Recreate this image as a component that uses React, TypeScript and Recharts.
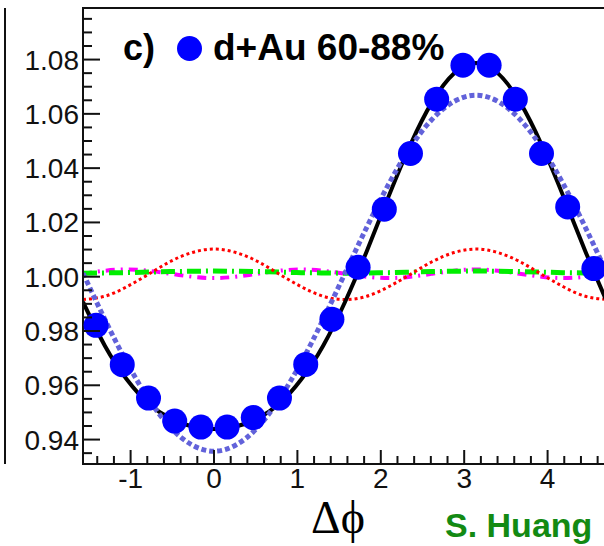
import React from "react";
import { ComposedChart, Line, Scatter, XAxis, YAxis, ReferenceArea } from "recharts";

// sample positions for the fit curves (-pi/2 .. 3pi/2)
const CURVE_X = [
  -1.571, -1.309, -1.047, -0.785, -0.524, -0.262, 0, 0.262, 0.524, 0.785, 1.047, 1.309, 1.571,
  1.833, 2.094, 2.356, 2.618, 2.88, 3.142, 3.403, 3.665, 3.927, 4.189, 4.451, 4.712,
];
// total fit (black solid)
const FIT = [
  0.9907, 0.9746, 0.9622, 0.9533, 0.9478, 0.9448, 0.9439, 0.9448, 0.9478, 0.9533, 0.9622, 0.9746, 0.9907,
  1.0095, 1.0296, 1.0487, 1.0645, 1.075, 1.0787, 1.075, 1.0645, 1.0487, 1.0296, 1.0095, 0.9907,
];
// first harmonic (blue dotted)
const HARM1 = [
  1.0013, 0.9843, 0.9685, 0.955, 0.9445, 0.938, 0.9357, 0.938, 0.9445, 0.955, 0.9685, 0.9843, 1.0013,
  1.0183, 1.0341, 1.0477, 1.0581, 1.0646, 1.0669, 1.0646, 1.0581, 1.0477, 1.0341, 1.0183, 1.0013,
];
// second harmonic (red dotted)
const HARM2 = [
  0.9916, 0.9928, 0.9963, 1.0009, 1.0056, 1.0089, 1.0102, 1.0089, 1.0056, 1.0009, 0.9963, 0.9928, 0.9916,
  0.9928, 0.9963, 1.0009, 1.0056, 1.0089, 1.0102, 1.0089, 1.0056, 1.0009, 0.9963, 0.9928, 0.9916,
];
// third harmonic (magenta dash-dot)
const HARM3 = [
  1.0011, 1.0022, 1.0027, 1.0022, 1.0011, 1.0, 0.9995, 1.0, 1.0011, 1.0022, 1.0027, 1.0022, 1.0011,
  1.0, 0.9995, 1.0, 1.0011, 1.0022, 1.0027, 1.0022, 1.0011, 1.0, 0.9995, 1.0, 1.0011,
];
// fourth term (green dash-dot)
const HARM4 = [
  1.0013, 1.0014, 1.0015, 1.0017, 1.0019, 1.002, 1.0021, 1.002, 1.0019, 1.0017, 1.0015, 1.0014, 1.0013,
  1.0014, 1.0015, 1.0017, 1.0019, 1.002, 1.0021, 1.002, 1.0019, 1.0017, 1.0015, 1.0014, 1.0013,
];

// d+Au 60-88% data points
const POINT_X = [
  -1.414, -1.1, -0.785, -0.471, -0.157, 0.157, 0.471, 0.785, 1.1, 1.414,
  1.728, 2.042, 2.356, 2.67, 2.985, 3.299, 3.613, 3.927, 4.241, 4.555,
];
const POINT_Y = [
  0.9821, 0.9676, 0.9553, 0.9468, 0.9446, 0.9446, 0.9481, 0.9553, 0.9677, 0.9843,
  1.0035, 1.0249, 1.0454, 1.0654, 1.0779, 1.0779, 1.0654, 1.0454, 1.0257, 1.003,
];

const X_TICKS = [-1, 0, 1, 2, 3, 4];
const X_MINOR = [
  -1.4, -1.2, -1, -0.8, -0.6, -0.4, -0.2, 0, 0.2, 0.4, 0.6, 0.8, 1, 1.2, 1.4, 1.6, 1.8, 2, 2.2, 2.4,
  2.6, 2.8, 3, 3.2, 3.4, 3.6, 3.8, 4, 4.2, 4.4, 4.6,
];
const Y_TICKS = [0.94, 0.96, 0.98, 1.0, 1.02, 1.04, 1.06, 1.08];
const Y_MINOR = [
  0.935, 0.94, 0.945, 0.95, 0.955, 0.96, 0.965, 0.97, 0.975, 0.98, 0.985, 0.99, 0.995, 1.0, 1.005,
  1.01, 1.015, 1.02, 1.025, 1.03, 1.035, 1.04, 1.045, 1.05, 1.055, 1.06, 1.065, 1.07, 1.075, 1.08,
  1.085, 1.09, 1.095,
];

const X_DOMAIN: [number, number] = [-1.5708, 4.7124];
const Y_DOMAIN: [number, number] = [0.931, 1.099];

const FONT = "'Liberation Sans', Arial, Helvetica, sans-serif";
const INK = "#111";

// ROOT draws its ticks inside the frame
const BottomTick = (p: any) => {
  const v = p.payload.value;
  const major = X_TICKS.includes(v);
  return (
    <g>
      <line x1={p.x} x2={p.x} y1={p.y} y2={p.y - (major ? 14 : 8)} stroke={INK} strokeWidth={2} />
      {major && (
        <text x={p.x} y={p.y + 24} textAnchor="middle" fontSize={28} fontFamily={FONT} fill={INK}>
          {v}
        </text>
      )}
    </g>
  );
};
const TopTick = (p: any) => {
  const major = X_TICKS.includes(p.payload.value);
  return <line x1={p.x} x2={p.x} y1={p.y} y2={p.y + (major ? 13 : 7)} stroke={INK} strokeWidth={2} />;
};
const LeftTick = (p: any) => {
  const v = p.payload.value;
  const major = Y_TICKS.includes(v);
  return (
    <g>
      <line x1={p.x} x2={p.x + (major ? 17 : 9)} y1={p.y} y2={p.y} stroke={INK} strokeWidth={2} />
      {major && (
        <text x={p.x - 4} y={p.y + 10} textAnchor="end" fontSize={28} fontFamily={FONT} fill={INK}>
          {v.toFixed(2)}
        </text>
      )}
    </g>
  );
};
const RightTick = (p: any) => {
  const major = Y_TICKS.includes(p.payload.value);
  return <line x1={p.x} x2={p.x - (major ? 17 : 9)} y1={p.y} y2={p.y} stroke={INK} strokeWidth={2} />;
};

export default function App() {
  const curveRows = CURVE_X.map((x, i) => ({
    x,
    fit: FIT[i],
    h1: HARM1[i],
    h2: HARM2[i],
    h3: HARM3[i],
    h4: HARM4[i],
  }));
  const pointRows = POINT_X.map((x, i) => ({ x, y: POINT_Y[i] }));
  const axisLine = { stroke: INK, strokeWidth: 2 };

  return (
    <div style={{ position: "fixed", left: 0, top: 0, width: 604, height: 546, overflow: "hidden", background: "#fff" }}>
      <ComposedChart width={620} height={546} data={curveRows} margin={{ top: 8, right: 13, bottom: 52, left: 0 }}>
        <XAxis xAxisId="b" dataKey="x" type="number" domain={X_DOMAIN} allowDataOverflow ticks={X_MINOR}
          interval={0} height={30} tickLine={false} tickSize={0} tickMargin={0} axisLine={axisLine} tick={<BottomTick />} />
        <XAxis xAxisId="t" orientation="top" dataKey="x" type="number" domain={X_DOMAIN} allowDataOverflow ticks={X_MINOR}
          interval={0} height={0} tickLine={false} tickSize={0} tickMargin={0} axisLine={axisLine} tick={<TopTick />} />
        <YAxis yAxisId="l" type="number" domain={Y_DOMAIN} allowDataOverflow ticks={Y_MINOR} interval={0} width={83}
          tickLine={false} tickSize={0} tickMargin={0} axisLine={axisLine} tick={<LeftTick />} />
        <YAxis yAxisId="r" orientation="right" type="number" domain={Y_DOMAIN} allowDataOverflow ticks={Y_MINOR}
          interval={0} width={0} tickLine={false} tickSize={0} tickMargin={0} axisLine={axisLine} tick={<RightTick />} />

        <ReferenceArea xAxisId="b" yAxisId="l" x1={X_DOMAIN[0]} x2={X_DOMAIN[1]} y1={Y_DOMAIN[0]} y2={Y_DOMAIN[1]}
          fill="none" fillOpacity={0} stroke={INK} strokeWidth={2} />

        <Scatter
          xAxisId="b"
          yAxisId="l"
          data={pointRows}
          dataKey="y"
          isAnimationActive={false}
          shape={(p: any) => <circle cx={p.cx} cy={p.cy} r={12.5} fill="#0000ff" />}
        />
        <Line xAxisId="b" yAxisId="l" type="natural" dataKey="h3" stroke="#ff00ff" strokeWidth={4}
          strokeDasharray="9 6 2 6" dot={false} isAnimationActive={false} />
        <Line xAxisId="b" yAxisId="l" type="natural" dataKey="h4" stroke="#00ee00" strokeWidth={5}
          strokeDasharray="14 5 2 5" dot={false} isAnimationActive={false} />
        <Line xAxisId="b" yAxisId="l" type="natural" dataKey="h2" stroke="#ff0000" strokeWidth={3}
          strokeDasharray="3 3" dot={false} isAnimationActive={false} />
        <Line xAxisId="b" yAxisId="l" type="natural" dataKey="fit" stroke="#000" strokeWidth={4}
          dot={false} isAnimationActive={false} />
        <Line xAxisId="b" yAxisId="l" type="natural" dataKey="h1" stroke="#6262da" strokeWidth={5}
          strokeDasharray="5 3" dot={false} isAnimationActive={false} />
      </ComposedChart>

      <svg width={604} height={546} style={{ position: "absolute", left: 0, top: 0, pointerEvents: "none" }}>
        {/* edge of the neighbouring panel */}
        <line x1={5} x2={5} y1={8} y2={464} stroke={INK} strokeWidth={2} />
        <text x={123} y={60} fontFamily={FONT} fontWeight="bold" fontSize={36} fill="#000">c)</text>
        <circle cx={189.5} cy={48.5} r={12.5} fill="#0000ff" />
        <text x={213} y={60} fontFamily={FONT} fontWeight="bold" fontSize={37} fill="#000">d+Au 60-88%</text>
        <text x={338} y={533} textAnchor="middle" fontFamily="'Liberation Serif', 'Times New Roman', serif" fontSize={46} fill="#000">Δϕ</text>
        <text x={445} y={537} fontFamily={FONT} fontWeight="bold" fontSize={34} fill="#138a13">S. Huang</text>
      </svg>
    </div>
  );
}
